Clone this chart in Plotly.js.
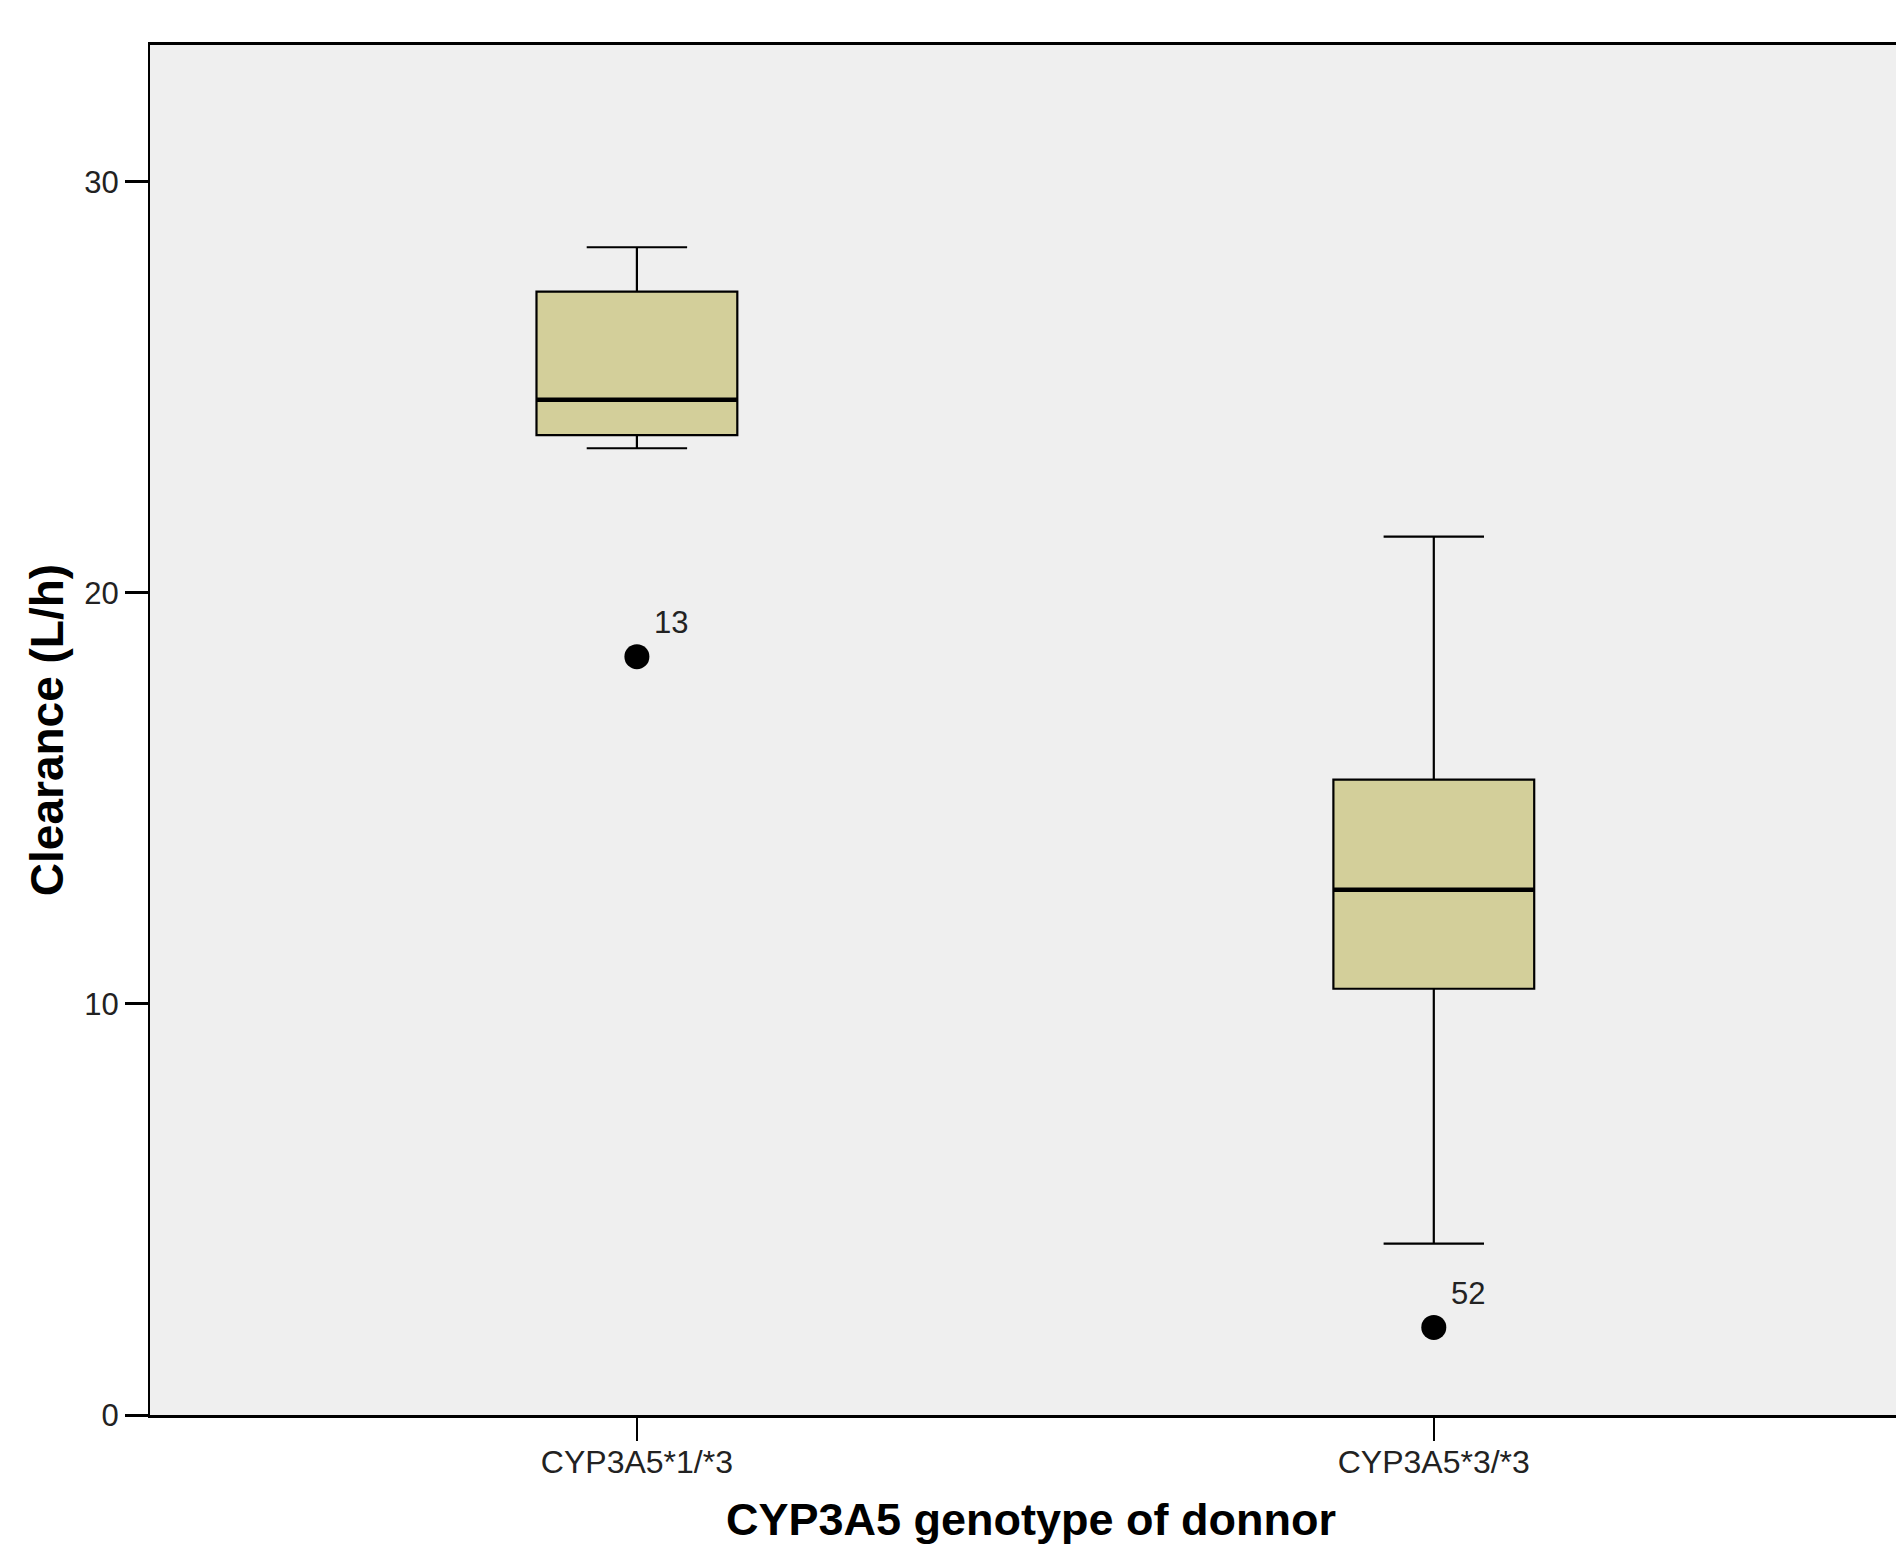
<!DOCTYPE html>
<html>
<head>
<meta charset="utf-8">
<script src="https://cdn.plot.ly/plotly-3.0.1.min.js"></script>
<style>html,body{margin:0;padding:0;background:#fff;}#chart{width:1896px;height:1549px;}</style>
</head>
<body>
<div id="chart"></div>
<script>
// Data
const categories = ["CYP3A5*1/*3", "CYP3A5*3/*3"];
const lowerWhisker = [23.52, 4.17];
const q1Values = [23.84, 10.37];
const medianValues = [24.70, 12.78];
const q3Values = [27.33, 15.46];
const upperWhisker = [28.41, 21.37];
const outlierCategory = [0, 1];
const outlierValues = [18.45, 2.13];
const outlierLabels = ["13", "52"];
const yTicks = [0, 10, 20, 30];
const xTitle = "CYP3A5 genotype of donnor";
const yTitle = "Clearance (L/h)";

const positions = categories.map((c, i) => i);
const boxHalf = 0.126;

const boxTrace = {
  type: "box",
  x: positions,
  q1: q1Values,
  median: medianValues,
  q3: q3Values,
  lowerfence: lowerWhisker,
  upperfence: upperWhisker,
  width: boxHalf * 2,
  whiskerwidth: 0.5,
  fillcolor: "#D3CF9A",
  line: {color: "#000000", width: 2.2},
  boxpoints: false,
  hoverinfo: "skip",
  showlegend: false
};

const medianTraces = positions.map((p, i) => ({
  type: "scatter",
  mode: "lines",
  x: [p - boxHalf, p + boxHalf],
  y: [medianValues[i], medianValues[i]],
  line: {color: "#000000", width: 4.5},
  hoverinfo: "skip",
  showlegend: false
}));

const outlierTrace = {
  type: "scatter",
  mode: "markers",
  x: outlierCategory,
  y: outlierValues,
  marker: {color: "#000000", size: 25, symbol: "circle"},
  hoverinfo: "skip",
  showlegend: false
};

const annotations = outlierLabels.map((t, i) => ({
  x: outlierCategory[i],
  y: outlierValues[i],
  xref: "x", yref: "y",
  text: t,
  showarrow: false,
  xanchor: "left",
  yanchor: "middle",
  xshift: 15,
  yshift: 34,
  font: {family: "Liberation Sans, Arial, sans-serif", size: 31, color: "#222222"}
}));

annotations.push({
  xref: "paper", yref: "paper",
  x: 0.5046, y: -0.0964,
  xanchor: "center", yanchor: "bottom",
  text: "<b>" + xTitle + "</b>",
  showarrow: false,
  font: {family: "Liberation Sans, Arial, sans-serif", size: 45, color: "#000000"}
});

const layout = {
  width: 1896,
  height: 1549,
  paper_bgcolor: "#ffffff",
  plot_bgcolor: "#EFEFEF",
  margin: {l: 150, r: 0, t: 45, b: 134, pad: 0},
  showlegend: false,
  xaxis: {
    range: [-0.611, 1.580],
    tickvals: positions,
    ticktext: categories,
    ticks: "outside",
    ticklen: 23,
    tickwidth: 2,
    tickcolor: "#000000",
    ticklabelstandoff: -6,
    showgrid: false,
    zeroline: false,
    showline: true,
    linecolor: "#000000",
    linewidth: 3,
    mirror: true,
    tickfont: {family: "Liberation Sans, Arial, sans-serif", size: 32, color: "#222222"},
    automargin: false
  },
  yaxis: {
    range: [0, 33.33],
    tickvals: yTicks,
    ticktext: yTicks.map(String),
    ticks: "outside",
    ticklen: 23,
    tickwidth: 3,
    tickcolor: "#000000",
    showgrid: false,
    zeroline: false,
    showline: true,
    linecolor: "#000000",
    linewidth: 2,
    mirror: false,
    tickfont: {family: "Liberation Sans, Arial, sans-serif", size: 31, color: "#222222"},
    title: {
      text: yTitle,
      font: {family: "Liberation Sans, Arial, sans-serif", size: 46, color: "#000000", weight: "bold"},
      standoff: 6
    },
    automargin: false
  },
  annotations: annotations
};

Plotly.newPlot("chart", [boxTrace].concat(medianTraces, [outlierTrace]), layout, {staticPlot: true, displayModeBar: false});
</script>
</body>
</html>
